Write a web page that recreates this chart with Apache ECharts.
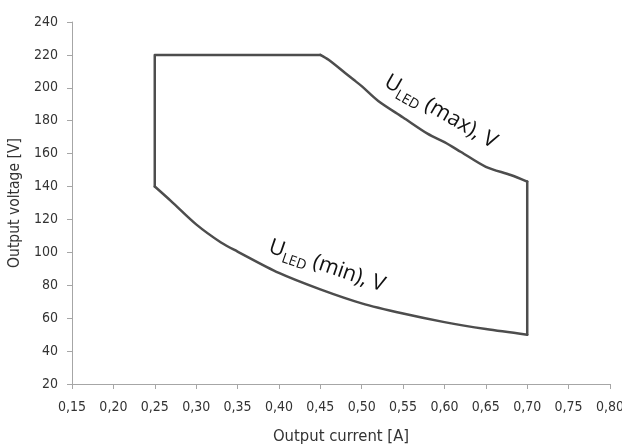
<!DOCTYPE html>
<html>
<head>
<meta charset="utf-8">
<script src="https://cdn.jsdelivr.net/npm/echarts@6/dist/echarts.min.js"></script>
<style>html,body{margin:0;padding:0;background:#fff;}#c{width:622px;height:446px;}</style>
</head>
<body>
<div id="c"></div>
<script>
// Upper boundary: ULED (max)
const maxCurrent = [0.45, 0.46, 0.48, 0.49, 0.50, 0.52, 0.55, 0.58, 0.60, 0.62, 0.65, 0.68, 0.70];
const maxVoltage = [220, 217, 209, 205, 201, 192, 182, 172, 167, 161, 152, 147, 143];
// Lower boundary: ULED (min)
const minCurrent = [0.25, 0.27, 0.30, 0.33, 0.35, 0.40, 0.45, 0.50, 0.55, 0.60, 0.65, 0.70];
const minVoltage = [140, 131, 117, 106, 100.5, 87.5, 77.5, 69, 62.8, 57.6, 53.4, 50];
// Edges
const leftCurrent = 0.25;
const topVoltage = 220;
const rightCurrent = 0.70;

const pairs = (xs, ys) => xs.map((x, i) => [x, ys[i]]);
const topEdge = [[leftCurrent, minVoltage[0]], [leftCurrent, topVoltage], [maxCurrent[0], maxVoltage[0]]];
const rightEdge = [[rightCurrent, maxVoltage[maxVoltage.length - 1]], [rightCurrent, minVoltage[minVoltage.length - 1]]];

const chart = echarts.init(document.getElementById('c'));
const fontAxis = '"DejaVu Sans Condensed", "Liberation Sans Narrow", sans-serif';
const axisColor = '#a6a6a6';
const textColor = '#333';
const lineStyle = { color: '#4d4d4d', width: 2.5, join: 'round', cap: 'round' };

const mk = (data, smooth) => ({ type: 'line', data, showSymbol: false, symbol: 'none', smooth, lineStyle, z: 3 });

chart.setOption({
  animation: false,
  backgroundColor: '#fff',
  grid: { left: 72, right: 12, top: 22, bottom: 62, containLabel: false, outerBoundsMode: 'none' },
  xAxis: {
    type: 'value', min: 0.15, max: 0.80, interval: 0.05,
    name: 'Output current [A]', nameLocation: 'middle', nameGap: 44,
    nameTextStyle: { fontFamily: fontAxis, fontSize: 16.5, color: textColor },
    axisLine: { show: true, lineStyle: { color: axisColor, width: 1 } },
    axisTick: { show: true, length: 5, lineStyle: { color: axisColor } },
    splitLine: { show: false },
    axisLabel: { fontFamily: fontAxis, fontSize: 14, color: textColor, margin: 16,
      formatter: v => v.toFixed(2).replace('.', ',') }
  },
  yAxis: {
    type: 'value', min: 20, max: 240, interval: 20,
    name: 'Output voltage [V]', nameLocation: 'middle', nameGap: 45,
    nameTextStyle: { fontFamily: fontAxis, fontSize: 15.5, color: textColor },
    axisLine: { show: true, lineStyle: { color: axisColor, width: 1 } },
    axisTick: { show: true, length: 5, lineStyle: { color: axisColor } },
    splitLine: { show: false },
    axisLabel: { fontFamily: fontAxis, fontSize: 14, color: textColor, margin: 14 }
  },
  series: [
    mk(topEdge, false),
    mk(pairs(maxCurrent, maxVoltage), 0.3),
    mk(rightEdge, false),
    mk(pairs(minCurrent, minVoltage), 0.3)
  ]
});

function label(text, pos, rot) {
  return {
    type: 'text', x: pos[0], y: pos[1], rotation: -rot * Math.PI / 180, z: 10,
    style: {
      text: '{u|U}{s|LED}{u| ' + text + '}',
      align: 'left', verticalAlign: 'top',
      rich: {
        u: { fontFamily: '"Open Sans", sans-serif', fontSize: 21.5, lineHeight: 28, verticalAlign: 'middle', fill: '#111' },
        s: { fontFamily: '"Open Sans", sans-serif', fontSize: 14, lineHeight: 15, verticalAlign: 'bottom', fill: '#111' }
      }
    }
  };
}
chart.setOption({
  graphic: [
    label('(max), V', [393, 68], 30),
    label('(min), V', [274, 233], 19)
  ]
});
</script>
</body>
</html>
